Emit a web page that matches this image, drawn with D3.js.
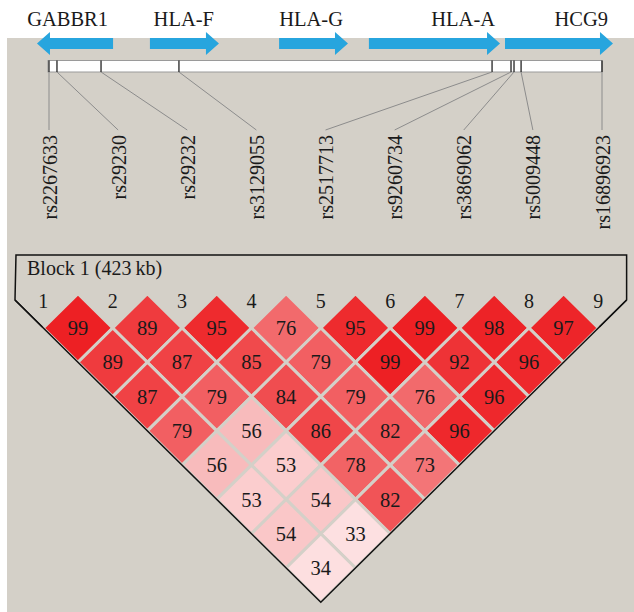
<!DOCTYPE html>
<html>
<head>
<meta charset="utf-8">
<title>LD block</title>
<style>
body{margin:0;background:#fff}
svg{display:block}
svg text{font-family:"Liberation Serif","Times New Roman",serif;fill:#1a1a1a}
</style>
</head>
<body>
<script src="https://cdn.jsdelivr.net/npm/d3@7"></script>
<script>
// data
var snps = ["rs2267633","rs29230","rs29232","rs3129055","rs2517713","rs9260734","rs3869062","rs5009448","rs16896923"];
var snpKb = [0, 6.1, 39.8, 99.4, 338.9, 353.4, 355.7, 361.1, 423];   // relative to first marker
var genes = ["GABBR1","HLA-F","HLA-G","HLA-A","HCG9"];
var geneStart = [49, 77.2, 176, 244.7, 348.8];
var geneEnd = [-9.2, 130, 228.7, 345, 431.4];   // GABBR1 runs backwards
// D' x100, one array per marker distance
var dprime = [
  [99, 89, 95, 76, 95, 99, 98, 97],
  [89, 87, 85, 79, 99, 92, 96],
  [87, 79, 84, 79, 76, 96],
  [79, 56, 86, 82, 96],
  [56, 53, 78, 73],
  [53, 54, 82],
  [54, 33],
  [34]
];

var W = 634, H = 612;
var bg = "#d4d0c8";
var serif = "'Liberation Serif', 'Times New Roman', serif";

var svg = d3.select("body").append("svg").attr("width", W).attr("height", H);
svg.append("rect").attr("x", 7).attr("y", 38).attr("width", W - 7).attr("height", H - 38).attr("fill", bg);

// scales
var kbX = d3.scaleLinear().domain([0, d3.max(snpKb)]).range([49, 602]);
var labelX = d3.scalePoint().domain(d3.range(snps.length)).range([49, 602]);
var ldX = d3.scalePoint().domain(d3.range(snps.length)).range([43.3, 598.3]);
var ldY = d3.scaleLinear().domain([0, snps.length - 1]).range([293.7, 568]);
var color = d3.scaleLinear()
  .domain([33, 53, 56, 73, 89, 99])
  .range(["#fde0e1", "#fbcdce", "#f8bbbc", "#f37577", "#ef3b3e", "#ed2024"]);

/*===== genes =====*/
var yc = 43.5, shaft = 5.5, head = 11.5, headLen = 13;
function arrowPath(s, e) {
  var x0 = kbX(s), x1 = kbX(e), dir = x1 > x0 ? 1 : -1, xb = x1 - dir * headLen;
  return "M" + x0 + "," + (yc - shaft) + "L" + xb + "," + (yc - shaft) + "L" + xb + "," + (yc - head) +
    "L" + x1 + "," + yc + "L" + xb + "," + (yc + head) + "L" + xb + "," + (yc + shaft) +
    "L" + x0 + "," + (yc + shaft) + "Z";
}
var g = svg.selectAll("g.gene").data(genes).enter().append("g").attr("class", "gene");
g.append("path")
  .attr("d", function(d, i){ return arrowPath(geneStart[i], geneEnd[i]); })
  .attr("fill", "#27a5de");
g.append("text")
  .attr("x", function(d, i){ return kbX(Math.max(geneStart[i], geneEnd[i])) - 5; })
  .attr("y", 26)
  .attr("text-anchor", "end")
  .attr("font-family", serif)
  .attr("font-size", 20.5)
  .text(function(d){ return d; });

/*===== chromosome bar =====*/
svg.append("rect").attr("x", kbX(0) - 1).attr("y", 60.5).attr("width", kbX(d3.max(snpKb)) - kbX(0) + 1).attr("height", 11.5)
  .attr("fill", "#fff").attr("stroke", "#9a9a9a").attr("stroke-width", 1);
svg.selectAll("line.tick").data(snpKb).enter().append("line")
  .attr("x1", function(d){ return kbX(d); }).attr("x2", function(d){ return kbX(d); })
  .attr("y1", 60.5).attr("y2", 72).attr("stroke", "#111").attr("stroke-width", 1.2);
svg.selectAll("line.link").data(snpKb).enter().append("line")
  .attr("x1", function(d){ return kbX(d); }).attr("y1", 72)
  .attr("x2", function(d, i){ return labelX(i); }).attr("y2", 130)
  .attr("stroke", "#8c8c8c").attr("stroke-width", 1);
svg.selectAll("text.snp").data(snps).enter().append("text")
  .attr("transform", function(d, i){ return "translate(" + labelX(i) + ",135) rotate(-90)"; })
  .attr("text-anchor", "end")
  .attr("dy", "0.38em")
  .attr("font-family", serif)
  .attr("font-size", 20)
  .text(function(d){ return d; });

/*===== LD triangle =====*/
var hw = (ldX(1) - ldX(0)) / 2, hh = ldY(1) - ldY(0);
var cells = [];
dprime.forEach(function(row, r){
  row.forEach(function(v, k){ cells.push({i: k, j: k + r + 1, v: v}); });
});

// block outline
var n = snps.length - 1;
var botX = (ldX(0) + ldX(n)) / 2, botY = ldY(n) + hh, cornerY = 300;
var side = (botY - cornerY) * hw / hh;
svg.append("path")
  .attr("d", "M" + (botX - side) + "," + cornerY + "L" + (botX - side + 1) + ",255L" + (botX + side) + ",255L" +
    (botX + side) + "," + cornerY + "L" + botX + "," + botY + "Z")
  .attr("fill", "none").attr("stroke", "#111").attr("stroke-width", 1.5);

var cg = svg.selectAll("g.cell").data(cells).enter().append("g").attr("class", "cell")
  .attr("transform", function(d){ return "translate(" + (ldX(d.i) + ldX(d.j)) / 2 + "," + ldY(d.j - d.i) + ")"; });
cg.append("path")
  .attr("d", "M0," + (-hh) + "L" + hw + ",0L0," + hh + "L" + (-hw) + ",0Z")
  .attr("fill", function(d){ return color(d.v); })
  .attr("stroke", bg).attr("stroke-width", 3);
cg.append("text")
  .attr("text-anchor", "middle")
  .attr("dy", "0.35em")
  .attr("font-family", serif)
  .attr("font-size", 20.5)
  .text(function(d){ return d.v; });

// redraw outline diagonals above cells
svg.append("path")
  .attr("d", "M" + (botX - side) + "," + cornerY + "L" + botX + "," + botY + "L" + (botX + side) + "," + cornerY)
  .attr("fill", "none").attr("stroke", "#111").attr("stroke-width", 1.5);

svg.selectAll("text.num").data(snps).enter().append("text")
  .attr("x", function(d, i){ return ldX(i); })
  .attr("y", 308)
  .attr("text-anchor", "middle")
  .attr("font-family", serif)
  .attr("font-size", 20)
  .text(function(d, i){ return i + 1; });

svg.append("text").attr("x", 27).attr("y", 275)
  .attr("font-family", serif)
  .attr("font-size", 20)
  .text("Block 1 (" + Math.round(d3.max(snpKb) - d3.min(snpKb)) + "\u2009kb)");
</script>
</body>
</html>
